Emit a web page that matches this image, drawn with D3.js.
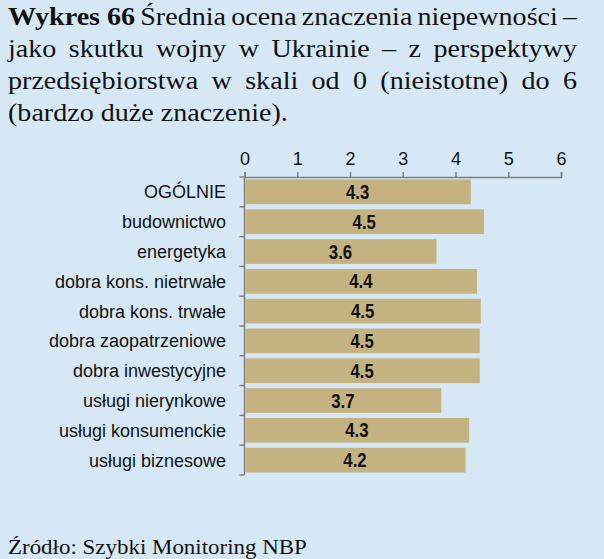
<!DOCTYPE html>
<html><head><meta charset="utf-8">
<script src="https://cdn.jsdelivr.net/npm/d3@7"></script>
<style>
html,body{margin:0;padding:0;background:#d6e8f5;}
svg{display:block;}
</style></head>
<body>
<script>
const categories = ["OGÓLNIE","budownictwo","energetyka","dobra kons. nietrwałe","dobra kons. trwałe","dobra zaopatrzeniowe","dobra inwestycyjne","usługi nierynkowe","usługi konsumenckie","usługi biznesowe"];
const values = [4.29, 4.54, 3.64, 4.41, 4.48, 4.46, 4.46, 3.73, 4.26, 4.19];
const valueLabels = ["4.3","4.5","3.6","4.4","4.5","4.5","4.5","3.7","4.3","4.2"];
const xTicks = [0,1,2,3,4,5,6];
const titleLines = [
  [{t:"Wykres 66",b:true},{t:"Średnia"},{t:"ocena"},{t:"znaczenia"},{t:"niepewności"},{t:"–"}],
  [{t:"jako"},{t:"skutku"},{t:"wojny"},{t:"w"},{t:"Ukrainie"},{t:"–"},{t:"z"},{t:"perspektywy"}],
  [{t:"przedsiębiorstwa"},{t:"w"},{t:"skali"},{t:"od"},{t:"0"},{t:"(nieistotne)"},{t:"do"},{t:"6"}],
  [{t:"(bardzo"},{t:"duże"},{t:"znaczenie)."}]
];
const source = "Źródło: Szybki Monitoring NBP";

const W = 604, H = 559;
const svg = d3.select("body").append("svg").attr("width", W).attr("height", H);
svg.append("rect").attr("width", W).attr("height", H).attr("fill", "#d6e8f5");

// Title, justified, with horizontal scale to mimic a wider book serif
const serif = "'Palatino Linotype','Book Antiqua',Palatino,'Liberation Serif',serif";
const tX0 = 8, tX1 = 577, baseY = [25, 57, 89, 121];
const fs = 24.5;
let kx = 1;
{
  const tmp = svg.append("text").attr("font-family", serif).attr("font-size", fs).text("(bardzo duże znaczenie).");
  kx = 280 / tmp.node().getComputedTextLength();
  tmp.remove();
}
titleLines.forEach((words, li) => {
  const g = svg.append("g").attr("transform", `translate(${tX0},${baseY[li]}) scale(${kx},1)`);
  const nodes = words.map(w => g.append("text")
    .attr("y", 0).attr("font-family", serif).attr("font-size", fs)
    .attr("font-weight", w.b ? "bold" : "normal").attr("fill", "#111").text(w.t));
  const widths = nodes.map(n => n.node().getComputedTextLength());
  const total = d3.sum(widths);
  const avail = (tX1 - tX0) / kx;
  const justify = li < 3;
  const gap = justify ? (avail - total) / (words.length - 1) : fs * 0.25;
  let x = 0;
  nodes.forEach((n, i) => { n.attr("x", x); x += widths[i] + gap; });
});

// Chart
const x = d3.scaleLinear().domain([0, 6]).range([244.5, 561]);
const y = d3.scaleBand().domain(categories).range([177, 475]).paddingInner(0.17).paddingOuter(0.085);
const axisColor = "#808080";
const sans = "'Liberation Sans',Arial,sans-serif";

const bars = svg.append("g");
bars.selectAll("rect").data(categories).join("rect")
  .attr("x", x(0) + 1).attr("y", d => y(d))
  .attr("width", (d, i) => x(values[i]) - x(0) - 1)
  .attr("height", y.bandwidth()).attr("fill", "#c4b381");

bars.selectAll("text.v").data(categories).join("text").attr("class", "v")
  .attr("transform", (d, i) => `translate(${(x(0) + x(values[i])) / 2},${y(d) + y.bandwidth() / 2}) scale(0.86,1)`)
  .attr("dy", "0.36em").attr("text-anchor", "middle")
  .attr("font-family", sans)
  .attr("font-weight", "bold").attr("font-size", 19.5).attr("fill", "#111")
  .text((d, i) => valueLabels[i]);

// Top axis
const xAxis = svg.append("g").attr("transform", "translate(0,177)")
  .call(d3.axisTop(x).tickValues(xTicks).tickFormat(d3.format("d")).tickSize(5).tickPadding(7));
xAxis.selectAll("path,line").attr("stroke", axisColor).attr("stroke-width", 1.5);
xAxis.selectAll("text").attr("font-family", sans).attr("font-size", 18).attr("fill", "#111");

// Left axis with ticks between categories
const left = svg.append("g");
left.append("line").attr("x1", x(0)).attr("x2", x(0)).attr("y1", 177).attr("y2", 475)
  .attr("stroke", axisColor).attr("stroke-width", 1.5);
const bounds = d3.range(categories.length + 1).map(i => 177 + i * (475 - 177) / categories.length);
left.selectAll("line.t").data(bounds).join("line").attr("class", "t")
  .attr("x1", x(0) - 5).attr("x2", x(0)).attr("y1", d => d).attr("y2", d => d)
  .attr("stroke", axisColor).attr("stroke-width", 1.5);
left.selectAll("text").data(categories).join("text")
  .attr("x", 226).attr("y", d => y(d) + y.bandwidth() / 2)
  .attr("dy", "0.36em")
  .attr("text-anchor", "end").attr("font-family", sans)
  .attr("font-size", 18).attr("fill", "#111").text(d => d);

// Source
{
  const s = svg.append("text").attr("font-family", serif).attr("font-size", 20).attr("fill", "#111").text(source);
  const k = 299 / s.node().getComputedTextLength();
  s.attr("transform", `translate(8,554) scale(${k},1)`);
}
</script>
</body></html>
